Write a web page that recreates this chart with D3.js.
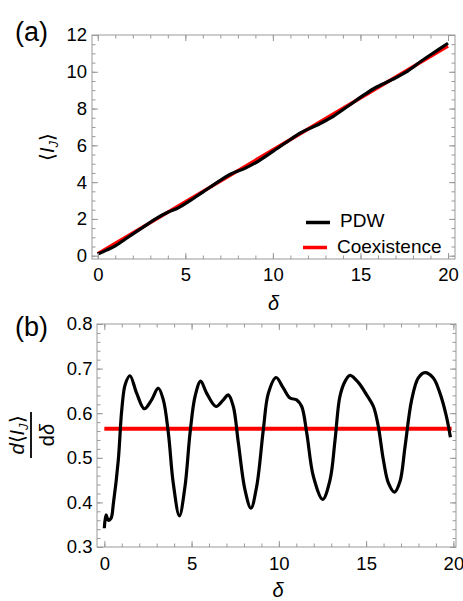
<!DOCTYPE html>
<html>
<head>
<meta charset="utf-8">
<script src="https://cdn.jsdelivr.net/npm/d3@7"></script>
<style>
  body { margin: 0; background: #fff; }
  text { font-family: "Liberation Sans", Arial, sans-serif; fill: #000; }
</style>
</head>
<body>
<div class="vis"></div>
<script>
// panel (a): <I_J> vs delta
const deltaA = [0, 0.5, 1.0, 1.6, 2.4, 3.4, 4.0, 4.6, 5.2, 6.0, 7.0, 7.6, 8.4, 9.2, 10.0, 11.0, 11.6, 12.5, 13.3, 14.2, 15.2, 15.9, 16.8, 17.6, 18.5, 19.3, 20];
const pdwA = [0.09, 0.30, 0.53, 0.92, 1.43, 2.06, 2.36, 2.60, 2.95, 3.46, 4.10, 4.44, 4.75, 5.16, 5.67, 6.32, 6.69, 7.09, 7.49, 8.07, 8.74, 9.16, 9.57, 9.98, 10.60, 11.11, 11.55];
const coexDeltaA = [0, 20];
const coexA = [0.1, 11.4];

// panel (b): d<I_J>/d delta
const deltaB = [0, 0.1, 0.23, 0.38, 0.52, 0.8, 1.0, 1.2, 1.47, 1.85, 2.29, 2.71, 3.09, 3.38, 3.67, 3.95, 4.30, 4.62, 4.91, 5.2, 5.52, 5.86, 6.4, 6.82, 7.1, 7.39, 7.68, 8.06, 8.4, 8.73, 9.11, 9.4, 9.84, 10.26, 10.64, 11.02, 11.31, 11.6, 11.98, 12.51, 12.93, 13.22, 13.5, 13.8, 14.08, 14.55, 15.03, 15.42, 15.7, 15.99, 16.28, 16.62, 16.94, 17.23, 17.61, 17.99, 18.37, 18.85, 19.23, 19.6, 19.83];
const pdwB = [0.342, 0.372, 0.36, 0.364, 0.398, 0.495, 0.608, 0.665, 0.684, 0.645, 0.61, 0.63, 0.656, 0.63, 0.555, 0.443, 0.370, 0.435, 0.555, 0.638, 0.672, 0.645, 0.615, 0.63, 0.641, 0.615, 0.533, 0.428, 0.387, 0.436, 0.563, 0.645, 0.68, 0.656, 0.634, 0.63, 0.615, 0.555, 0.458, 0.407, 0.45, 0.54, 0.638, 0.672, 0.685, 0.669, 0.641, 0.615, 0.57, 0.495, 0.443, 0.423, 0.447, 0.525, 0.63, 0.679, 0.691, 0.679, 0.645, 0.593, 0.546];
const coexDeltaB = [0, 19.9];
const coexB = [0.565, 0.565];

const xTicks = [0, 5, 10, 15, 20];
const xMinor = d3.range(0, 21, 1);
const yTicksA = [0, 2, 4, 6, 8, 10, 12];
const yMinorA = d3.range(0, 12.01, 0.5);
const yTicksB = [0.3, 0.4, 0.5, 0.6, 0.7, 0.8];
const yMinorB = d3.range(0.3, 0.801, 0.02);

const legendLabels = ['PDW', 'Coexistence'];
const colors = ['#000000', '#ff0000'];
const frameColor = '#999999';

const svg = d3.select('.vis')
  .append('svg')
  .attr('width', 463)
  .attr('height', 601);

const zip = (xs, ys) => xs.map((v, i) => [v, ys[i]]);

const drawFrame = (x, y, yMajor, yMinor, yFmt, padX, padY) => {
  const [x0, x1] = x.range();
  const [y0, y1] = y.range();
  const g = svg.append('g');
  const axes = [
    [d3.axisBottom, `translate(0,${y0})`, x, xTicks, xMinor, d3.format('d'), padX],
    [d3.axisTop, `translate(0,${y1})`, x, xTicks, xMinor, null, 0],
    [d3.axisLeft, `translate(${x0},0)`, y, yMajor, yMinor, yFmt, padY],
    [d3.axisRight, `translate(${x1},0)`, y, yMajor, yMinor, null, 0]
  ];
  axes.forEach(([fn, tr, sc, major, minor, fmt, pad]) => {
    const a = g.append('g').attr('transform', tr)
      .call(fn(sc).tickValues(minor).tickSize(-3.5).tickFormat(''));
    a.select('.domain').remove();
    const b = g.append('g').attr('transform', tr)
      .call(fn(sc).tickValues(major).tickSize(-6).tickPadding(pad)
        .tickFormat(fmt || (() => '')));
    b.select('.domain').remove();
    b.selectAll('text').attr('font-size', 18.5)
      .attr('font-family', '"Liberation Sans", Arial, sans-serif')
      .attr('fill', '#000');
  });
  g.selectAll('line').attr('stroke', frameColor);
  g.append('rect')
    .attr('x', x0).attr('y', y1)
    .attr('width', x1 - x0).attr('height', y0 - y1)
    .attr('fill', 'none')
    .attr('stroke', frameColor)
    .attr('stroke-width', 1);
};

// ---- panel (a)
const xA = d3.scaleLinear().domain([-0.33, 20.4]).range([92, 455]);
const yA = d3.scaleLinear().domain([-0.18, 12]).range([259, 35]);

const lineA = d3.line().x((d) => xA(d[0])).y((d) => yA(d[1])).curve(d3.curveCatmullRom);
svg.append('path')
  .datum(zip(coexDeltaA, coexA))
  .attr('fill', 'none')
  .attr('stroke', colors[1])
  .attr('stroke-width', 3.5)
  .attr('d', lineA);
svg.append('path')
  .datum(zip(deltaA, pdwA))
  .attr('fill', 'none')
  .attr('stroke', colors[0])
  .attr('stroke-width', 3.2)
  .attr('d', lineA);

drawFrame(xA, yA, yTicksA, yMinorA, d3.format('d'), 9, 5);

// legend
const legend = svg.append('g');
legendLabels.forEach((lab, i) => {
  const ly = 222.5 + i * 25;
  legend.append('line')
    .attr('x1', i ? 303 : 306).attr('x2', i ? 327 : 330)
    .attr('y1', ly).attr('y2', ly)
    .attr('stroke', colors[i]).attr('stroke-width', 3.5);
  legend.append('text')
    .attr('x', i ? 337 : 340).attr('y', ly + 4.5 + (i ? 0.5 : 0))
    .attr('font-size', 19)
    .text(lab);
});

svg.append('text').attr('x', 15).attr('y', 41).attr('font-size', 27).text('(a)');
svg.append('text').attr('x', 273.5).attr('y', 310).attr('text-anchor', 'middle')
  .attr('font-size', 20).attr('font-style', 'italic').text('δ');

const yLabA = svg.append('text')
  .attr('transform', 'translate(54,147) rotate(-90)')
  .attr('text-anchor', 'middle')
  .attr('font-size', 20);
yLabA.append('tspan').text('⟨');
yLabA.append('tspan').attr('font-style', 'italic').text('I');
yLabA.append('tspan').attr('font-style', 'italic').attr('font-size', 13).attr('dy', 4).text('J');
yLabA.append('tspan').attr('dy', -4).text('⟩');

// ---- panel (b)
const xB = d3.scaleLinear().domain([-0.42, 20.15]).range([97, 456]);
const yB = d3.scaleLinear().domain([0.3, 0.8]).range([547, 324]);

const lineB = d3.line().x((d) => xB(d[0])).y((d) => yB(d[1])).curve(d3.curveCatmullRom);
svg.append('path')
  .datum(zip(coexDeltaB, coexB))
  .attr('fill', 'none')
  .attr('stroke', colors[1])
  .attr('stroke-width', 4)
  .attr('d', lineB);
svg.append('path')
  .datum(zip(deltaB, pdwB))
  .attr('fill', 'none')
  .attr('stroke', colors[0])
  .attr('stroke-width', 3.2)
  .attr('d', lineB);

drawFrame(xB, yB, yTicksB, yMinorB, d3.format('.1f'), 10, 4.5);

svg.append('text').attr('x', 15).attr('y', 336).attr('font-size', 27).text('(b)');
svg.append('text').attr('x', 278).attr('y', 597).attr('text-anchor', 'middle')
  .attr('font-size', 20).attr('font-style', 'italic').text('δ');

// fraction label d<I_J>/dδ
const frac = svg.append('g').attr('transform', 'translate(31,435) rotate(-90)');
const num = frac.append('text').attr('y', -7).attr('text-anchor', 'middle').attr('font-size', 20);
num.append('tspan').attr('font-style', 'italic').text('d');
num.append('tspan').text('⟨');
num.append('tspan').attr('font-style', 'italic').text('I');
num.append('tspan').attr('font-style', 'italic').attr('font-size', 13).attr('dy', 4).text('J');
num.append('tspan').attr('dy', -4).text('⟩');
frac.append('line')
  .attr('x1', -23).attr('x2', 23)
  .attr('y1', 0).attr('y2', 0)
  .attr('stroke', '#000').attr('stroke-width', 1.8);
const den = frac.append('text').attr('y', 23).attr('text-anchor', 'middle').attr('font-size', 20);
den.append('tspan').text('d');
den.append('tspan').attr('font-style', 'italic').text('δ');
</script>
</body>
</html>
